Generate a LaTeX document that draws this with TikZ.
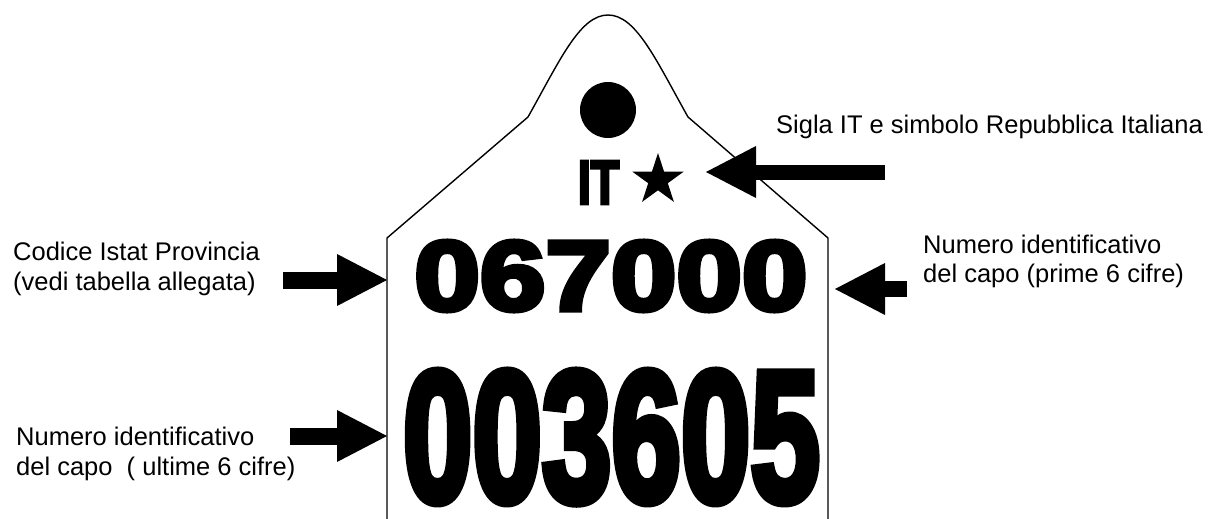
\documentclass[tikz,border=0pt]{standalone}
\usepackage{fontspec}
\setmainfont{Liberation Sans}
\newfontfamily\heavy{Liberation Sans Bold}[FakeBold=5]
\usetikzlibrary{arrows.meta,shapes.geometric}
\begin{document}
\begin{tikzpicture}[x=1pt,y=-1pt,
  lbl/.style={font=\fontsize{25.5}{29.5}\selectfont, align=left, inner sep=0pt, anchor=west},
  fatarrow/.style={line width=17pt, -{Triangle[length=50pt,width=52pt,line width=0pt]}},
  outline/.style={line width=1.4pt, line join=miter}]
\fill[white] (0,0) rectangle (1213,519);
\useasboundingbox (0,0) rectangle (1213,519);

% tag outline
\coordinate (bl) at (387,519);
\coordinate (tl) at (387,238);
\coordinate (sl) at (528,117);
\coordinate (peak) at (608,15);
\coordinate (sr) at (688,117);
\coordinate (tr) at (828,238);
\coordinate (br) at (828,519);
\draw[outline] (bl) -- (tl) -- (sl) .. controls (560,60) and (580,15) .. (peak)
  .. controls (636,15) and (656,60) .. (sr) -- (tr) -- (br);

% hole, IT and star
\node[circle, fill=black, minimum size=56pt, inner sep=0pt] (hole) at (608,110) {};
\node[inner sep=0pt] (it) at (598.5,182.5) {\scalebox{0.75}[1]{\heavy\fontsize{62}{66}\selectfont IT}};
\node[star, star points=5, star point ratio=2.618, fill=black, minimum size=54pt, inner sep=0pt] (star) at (658,180) {};

% numbers
\node[inner sep=0pt] (num1) at (611,276) {\scalebox{1.19}[1]{\heavy\fontsize{99}{104}\selectfont 067000}};
\node[inner sep=0pt, anchor=base] (num2) at (611.5,501) {\scalebox{0.672}[1]{\heavy\fontsize{186}{190}\selectfont 003605}};

% labels
\node[lbl, anchor=base west] (sigla) at (776,133) {Sigla IT e simbolo Repubblica Italiana};
\node[lbl] (codice) at (13,269) {Codice Istat Provincia\\(vedi tabella allegata)};
\node[lbl] (prime) at (923,261.5) {Numero identificativo\\del capo (prime 6 cifre)};
\node[lbl] (ultime) at (16,454) {Numero identificativo\\del capo\ \ ( ultime 6 cifre)};

% arrows
\coordinate (a0t) at (885,172);
\coordinate (a0h) at (706,172);
\coordinate (a1t) at (283,280);
\coordinate (a1h) at (387,280);
\coordinate (a2t) at (290,436);
\coordinate (a2h) at (387,436);
\coordinate (a3t) at (907,289);
\coordinate (a3h) at (835,289);
\draw[fatarrow, line width=15pt] (a0t) -- (a0h);
\draw[fatarrow] (a1t) -- (a1h);
\draw[fatarrow] (a2t) -- (a2h);
\draw[fatarrow, line width=16pt] (a3t) -- (a3h);
\end{tikzpicture}
\end{document}
